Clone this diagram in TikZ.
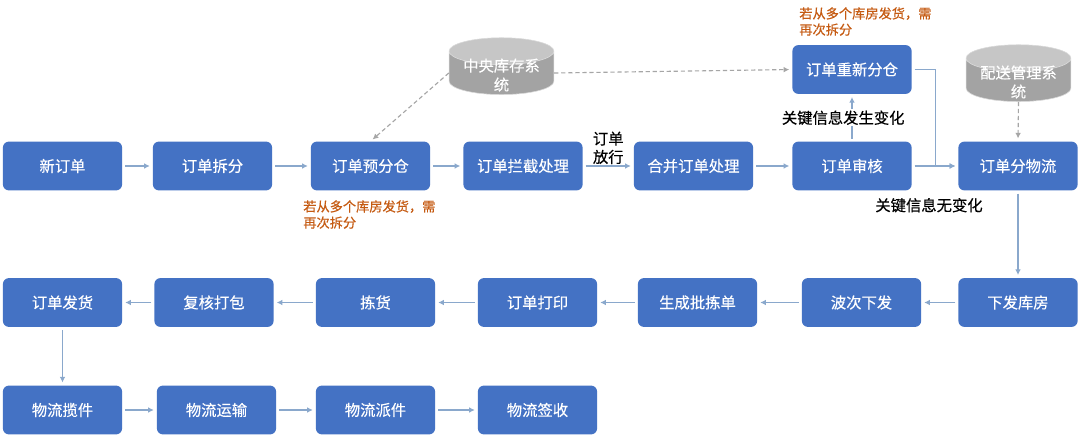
\documentclass[tikz,border=0pt]{standalone}
\usepackage{fontspec}
\setmainfont{Noto Sans CJK SC}[FakeBold=0.35]
\usepackage{xcolor}
\usepackage{tikz}
\usetikzlibrary{shapes.geometric,arrows.meta}

\definecolor{boxblue}{HTML}{4472C4}
\definecolor{flowline}{HTML}{8AA8CC}
\definecolor{notebrown}{HTML}{C55A11}
\definecolor{dbgray}{HTML}{A3A3A3}
\definecolor{dbtop}{HTML}{C6C6C6}
\definecolor{dashgray}{HTML}{A6A6A6}

\newcommand{\dbname}[2]{\smash{\raisebox{-0.2cm}{\begin{tabular}{@{}c@{}}#1\\#2\end{tabular}}}}

\tikzset{
  box/.style={fill=boxblue, rounded corners=0.15cm, minimum width=2.98cm,
    minimum height=1.22cm, inner sep=0pt, text=white,
    font=\fontsize{10.9}{13}\selectfont},
  db/.style={cylinder, shape border rotate=90, aspect=0.35, draw=white!70!gray,
    cylinder uses custom fill, cylinder body fill=dbgray, cylinder end fill=dbtop,
    minimum width=2.62cm, minimum height=1.42cm, inner sep=0pt, text=white,
    font=\fontsize{10.9}{13.5}\selectfont},
  flow/.style={draw=flowline, line width=0.8pt, shorten <=2pt, shorten >=2pt,
    -{Latex[length=4pt,width=4pt]}},
  link/.style={draw=dashgray, line width=0.8pt, dash pattern=on 3pt off 2pt,
    shorten >=2pt, -{Latex[length=4pt,width=4pt]}},
  note/.style={text=notebrown, align=left, inner sep=0pt,
    font=\fontsize{9.4}{11.5}\selectfont},
  tag/.style={text=black, inner sep=1pt, font=\fontsize{10.9}{13}\selectfont}
}

\begin{document}
\begin{tikzpicture}[x=0.025cm, y=-0.025cm]
  \fill[white] (0,0) rectangle (1080,435);
  \useasboundingbox (0,0) rectangle (1080,435);
  \foreach \n/\x/\t in {xin/62.5/新订单, chaifen/212.5/订单拆分, yufencang/370.5/订单预分仓,
      lanjie/523/订单拦截处理, hebing/693.5/合并订单处理, shenhe/852/订单审核,
      fenwuliu/1018/订单分物流} {
    \node[box] (\n) at (\x,166) {\t};
  }
  \node[box] (chongxin) at (852,69.5) {订单重新分仓};
  \foreach \n/\x/\t in {fahuo/62.5/订单发货, fuhe/214/复核打包, jianhuo/375.5/拣货,
      dayin/537.5/订单打印, pijian/697.5/生成批拣单, boci/861.5/波次下发,
      xiafa/1018/下发库房} {
    \node[box] (\n) at (\x,302.5) {\t};
  }
  \foreach \n/\x/\t in {lanjian/62.5/物流揽件, yunshu/216.5/物流运输,
      paijian/375.5/物流派件, qianshou/537.5/物流签收} {
    \node[box] (\n) at (\x,410) {\t};
  }
  \node[db] (zhongyang) at (501.5,73) {\dbname{中央库存系}{统}};
  \node[db] (peisong) at (1018.5,80) {\dbname{配送管理系}{统}};
  \node[note, anchor=north west] (note1) at (303,200) {若从多个库房发货，需\\再次拆分};
  \node[note, anchor=north west] (note2) at (799,7) {若从多个库房发货，需\\再次拆分};

  \foreach \a/\b in {xin/chaifen, chaifen/yufencang, yufencang/lanjie, hebing/shenhe,
      fenwuliu/xiafa, xiafa/boci, boci/pijian, pijian/dayin, dayin/jianhuo,
      jianhuo/fuhe, fuhe/fahuo, fahuo/lanjian, lanjian/yunshu, yunshu/paijian,
      paijian/qianshou} {
    \draw[flow] (\a) -- (\b);
  }
  \draw[flow] (lanjie) -- node[tag, above, align=left] {订单\\放行} (hebing);
  \draw[flow] (shenhe) -- node[tag, fill=white, xshift=-0.22cm] {关键信息发生变化} (chongxin);
  \draw[flow] (shenhe) -- node[tag, xshift=-0.15cm, yshift=-0.98cm] {关键信息无变化} (fenwuliu);
  \draw[flow] (chongxin.east) -- ++(24,0) |- (fenwuliu.west);
  \draw[link] (zhongyang.west) -- (yufencang.north);
  \draw[link] (zhongyang.east) -- (chongxin.west);
  \draw[link] (peisong.south) -- (fenwuliu.north);
\end{tikzpicture}
\end{document}
